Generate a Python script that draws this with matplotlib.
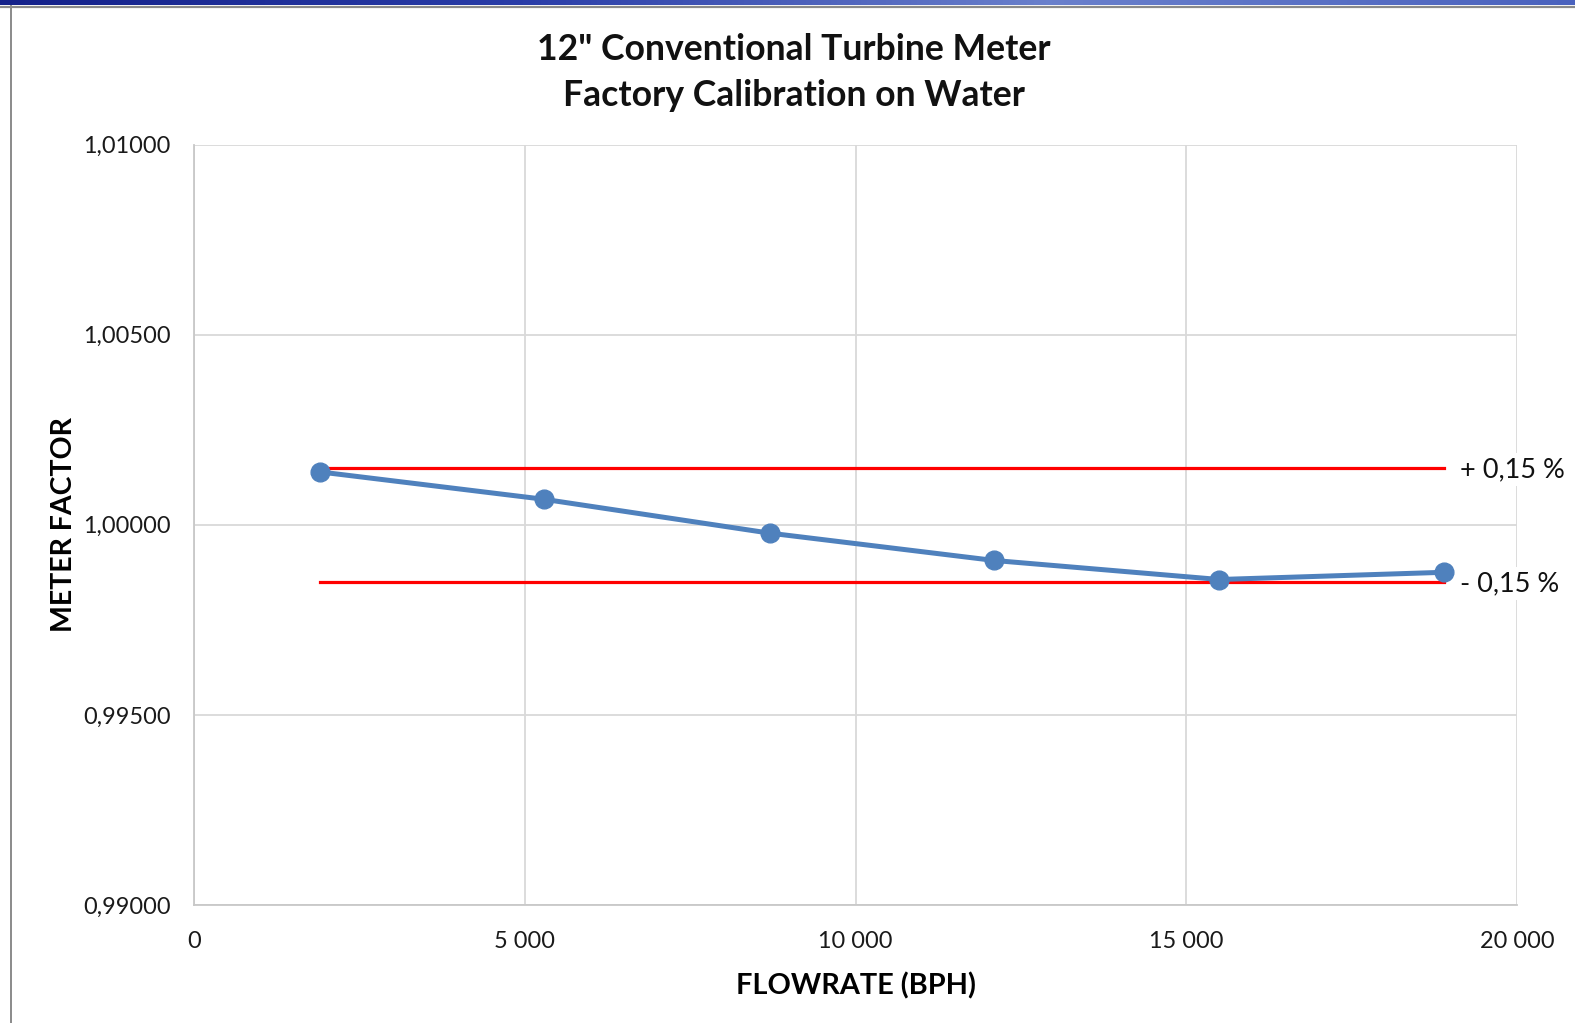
import numpy as np
import matplotlib
matplotlib.use("Agg")
import matplotlib.pyplot as plt
from matplotlib.ticker import FuncFormatter, MultipleLocator
from matplotlib.colors import LinearSegmentedColormap

plt.rcParams['font.family'] = ['Lato', 'DejaVu Sans']

# Calibration points
flowrate_bph = [1900, 5290, 8700, 12100, 15500, 18900]
meter_factor = [1.00139, 1.00067, 0.99978, 0.99906, 0.99856, 0.99875]

# Tolerance band (+/- 0.15 %)
upper_limit = 1.0015
lower_limit = 0.9985
limit_labels = ["+ 0,15 %", "- 0,15 %"]

title_lines = ['12" Conventional Turbine Meter', 'Factory Calibration on Water']
x_label = "FLOWRATE (BPH)"
y_label = "METER FACTOR"

fig = plt.figure(figsize=(15.75, 10.23), dpi=100)

# Slide frame: gradient bar on top, thin rule on the left
bar_ax = fig.add_axes([0, 1 - 5.5 / 1023, 1, 5.5 / 1023])
grad = np.linspace(0, 1, 256).reshape(1, -1)
cmap = LinearSegmentedColormap.from_list("bar", ["#14218a", "#2a3da8", "#6a80cc", "#4a62be"])
bar_ax.imshow(grad, aspect="auto", cmap=cmap, extent=[0, 1, 0, 1])
bar_ax.set_axis_off()
fig.add_artist(plt.Line2D([0, 1], [1 - 6.5 / 1023, 1 - 6.5 / 1023], transform=fig.transFigure,
                          color="#8a8a8a", lw=1.6))
fig.add_artist(plt.Line2D([11 / 1575, 11 / 1575], [0, 1 - 6 / 1023], transform=fig.transFigure,
                          color="#8a8a8a", lw=1.4))

ax = fig.add_axes([194 / 1575, 1 - 905 / 1023, 1323 / 1575, 760.5 / 1023])

ax.set_xlim(0, 20000)
ax.set_ylim(0.99, 1.01)
ax.xaxis.set_major_locator(MultipleLocator(5000))
ax.yaxis.set_major_locator(MultipleLocator(0.005))
ax.xaxis.set_major_formatter(FuncFormatter(lambda v, p: f"{int(round(v)):,}".replace(",", " ")))
ax.yaxis.set_major_formatter(FuncFormatter(lambda v, p: f"{v:.5f}".replace(".", ",")))

ax.grid(True, color="#d9d9d9", lw=1.3)
ax.set_axisbelow(True)
for side in ["top", "right"]:
    ax.spines[side].set_visible(False)
for side in ["left", "bottom"]:
    ax.spines[side].set_color("#c8c8c8")
    ax.spines[side].set_linewidth(1.3)
ax.tick_params(length=0, labelsize=16.9, colors="#1a1a1a")
ax.tick_params(axis="y", pad=17)
ax.tick_params(axis="x", pad=19)

# Tolerance limits span the calibrated flow range
x_lo, x_hi = flowrate_bph[0], flowrate_bph[-1]
ax.plot([x_lo, x_hi], [upper_limit, upper_limit], color="#ff0000", lw=2.3, zorder=3)
ax.plot([x_lo, x_hi], [lower_limit, lower_limit], color="#ff0000", lw=2.3, zorder=3)

ax.plot(flowrate_bph, meter_factor, color="#4f81bd", lw=3.6, marker="o",
        markersize=13.5, markerfacecolor="#4f81bd", markeredgecolor="#4f81bd", zorder=4)

for y, lab in zip([upper_limit, lower_limit], limit_labels):
    ax.annotate(lab, xy=(x_hi, y), xytext=(11, -1.5), textcoords="offset points",
                ha="left", va="center", fontsize=19.5, color="#111111", clip_on=False,
                bbox=dict(boxstyle="square,pad=0.15", fc="white", ec="none"), zorder=5)

ax.set_xlabel(x_label, fontsize=20.8, fontweight="bold", labelpad=14)
ax.set_ylabel(y_label, fontsize=20.5, fontweight="bold", labelpad=4)

fig.text(0.504, 1 - 49 / 1023, title_lines[0], ha="center", va="center",
         fontsize=25.6, fontweight="bold", color="#111111")
fig.text(0.504, 1 - 95 / 1023, title_lines[1], ha="center", va="center",
         fontsize=25.6, fontweight="bold", color="#111111")

fig.savefig("out.png", dpi=100, facecolor="white")
